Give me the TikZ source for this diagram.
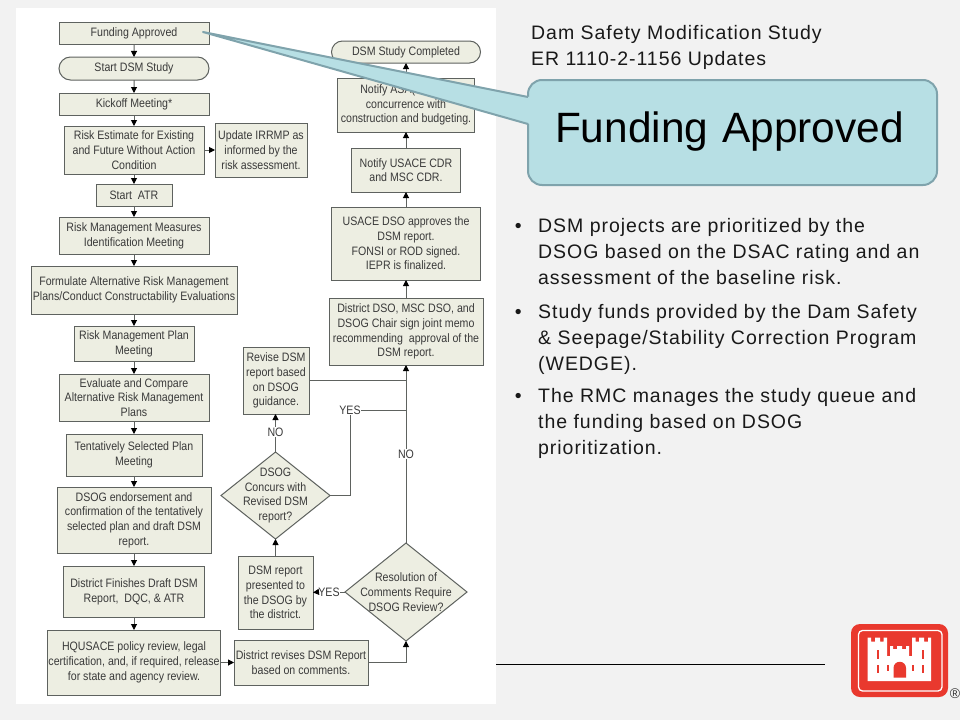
\documentclass[tikz,border=0pt]{standalone}
\usepackage{fontspec}
\setmainfont{Liberation Sans}
\newfontfamily\flowfont[FakeStretch=0.87]{Liberation Sans}
\newfontfamily\slidefont[LetterSpace=4.9]{Liberation Sans}
\usetikzlibrary{
  arrows.meta, % for the small flow arrow tips
  positioning, % for relative positioning of the boxes
  shapes.geometric, % for the decision diamonds
  shapes.misc % for the rounded start and end boxes
}
\definecolor{slidebg}{HTML}{F2F2F2}
\definecolor{boxfill}{HTML}{EDEEE2}
\definecolor{boxline}{HTML}{5E625F}
\definecolor{flowtext}{HTML}{3A3A3A}
\definecolor{calloutfill}{HTML}{B7DFE4}
\definecolor{calloutline}{HTML}{7FA3AC}
\definecolor{logored}{HTML}{E9392E}
\tikzset{
  flowbox/.style={ % style for each step of the flow
    rectangle,draw=boxline,fill=boxfill,line width=1pt,
    inner sep=0pt,outer sep=0pt,
    align=center,text=flowtext,
    font=\flowfont\fontsize{12.2}{14.7}\selectfont,
  },
  terminal/.style={ % start and end of the study
    flowbox,rounded rectangle,
  },
  decision/.style={ % text sits in a label so the diamond keeps its size
    flowbox,diamond,
  },
  flowlabel/.style={ % labels on the connectors
    inner sep=0.5pt,text=flowtext,
    font=\flowfont\fontsize{12.2}{14.7}\selectfont,
  },
  decisiontext/.style={
    align=center,text=flowtext,inner sep=0pt,
    font=\flowfont\fontsize{12.2}{14.7}\selectfont,
  },
  conn/.style={ % style for the connections
    -{Triangle[length=6pt,width=6pt,color=black]},
    draw=boxline,line width=1pt,
  },
  plain/.style={ % connections with no tip
    draw=boxline,line width=1pt,
  },
  slidetext/.style={
    anchor=north west,align=left,inner sep=0pt,text=black!90,
    font=\slidefont\fontsize{19.5}{26}\selectfont,
  },
  bubblebox/.style={ % large label over the chart
    rectangle,rounded corners=14pt,draw=calloutline,fill=calloutfill,line width=2pt,
    inner sep=0pt,outer sep=0pt,minimum width=409pt,minimum height=105pt,
    text width=355pt,align=left,text height=31pt,text depth=12pt,
    font=\fontsize{42.4}{50}\selectfont,
  },
}

\begin{document}
\begin{tikzpicture}[x=1pt,y=-1pt]
  \useasboundingbox (0,0) rectangle (960,720);
  \fill[slidebg] (0,0) rectangle (960,720);
  \fill[white] (16,8) rectangle (496,704);
  \draw[black,line width=0.8pt] (496,664) -- (825,664);

  % left column, top to bottom
  \node[flowbox, minimum width=150pt, minimum height=22pt] (fund) at (134,33) {Funding Approved};
  \node[terminal, minimum width=150pt, minimum height=23pt, below=13pt of fund] (start) {Start DSM Study};
  \node[flowbox, minimum width=150pt, minimum height=22pt, below=13pt of start] (kick) {Kickoff Meeting*};
  \node[flowbox, minimum width=140pt, minimum height=48pt, below=11pt of kick] (est) {Risk Estimate for Existing\\and Future Without Action\\Condition};
  \node[flowbox, minimum width=92pt, minimum height=54pt, right=11pt of est] (irrmp) {Update IRRMP as\\informed by the\\risk assessment.};
  \node[flowbox, minimum width=76pt, minimum height=22pt, below=10pt of est] (atr) {Start~~ATR};
  \node[flowbox, minimum width=150pt, minimum height=37pt, below=11pt of atr] (measures) {Risk Management Measures\\Identification Meeting};
  \node[flowbox, minimum width=206pt, minimum height=48pt, below=12pt of measures] (formulate) {Formulate Alternative Risk Management\\Plans/Conduct Constructability Evaluations};
  \node[flowbox, minimum width=120pt, minimum height=35pt, below=12pt of formulate] (rmpmeet) {Risk Management Plan\\Meeting};
  \node[flowbox, minimum width=150pt, minimum height=47pt, below=13pt of rmpmeet] (evaluate) {Evaluate and Compare\\Alternative Risk Management\\Plans};
  \node[flowbox, minimum width=136pt, minimum height=42pt, below=13pt of evaluate] (tsp) {Tentatively Selected Plan\\Meeting};
  \node[flowbox, minimum width=154pt, minimum height=66pt, below=11pt of tsp] (endorse) {DSOG endorsement and\\confirmation of the tentatively\\selected plan and draft DSM\\report.};
  \node[flowbox, minimum width=141pt, minimum height=51pt, below=13pt of endorse] (finish) {District Finishes Draft DSM\\Report,~~DQC, \& ATR};
  \node[flowbox, minimum width=173pt, minimum height=65pt, below=13pt of finish] (hq) {HQUSACE policy review, legal\\certification, and, if required, release\\for state and agency review.};

  % right column, bottom to top
  \node[flowbox, minimum width=134pt, minimum height=45pt] (revises) at (301,662.5) {District revises DSM Report\\based on comments.};
  \node[decision, minimum width=122pt, minimum height=98pt, label={[decisiontext]center:{Resolution of\\Comments Require\\DSOG Review?}}] (resolve) at (406,592) {};
  \node[flowbox, minimum width=75pt, minimum height=73pt] (present) at (275.5,592.5) {DSM report\\presented to\\the DSOG by\\the district.};
  \node[decision, minimum width=109pt, minimum height=87pt, label={[decisiontext]center:{DSOG\\Concurs with\\Revised DSM\\report?}}] (concur) at (275.5,495.5) {};
  \node[flowbox, minimum width=66pt, minimum height=67pt] (revise) at (276,380.5) {Revise DSM\\report based\\on DSOG\\guidance.};
  \node[flowbox, minimum width=154pt, minimum height=67pt] (joint) at (406,331.5) {District DSO, MSC DSO, and\\DSOG Chair sign joint memo\\recommending~~approval of the\\DSM report.};
  \node[flowbox, minimum width=149pt, minimum height=73pt, above=18pt of joint] (approve) {USACE DSO approves the\\DSM report.\\FONSI or ROD signed.\\IEPR is finalized.};
  \node[flowbox, minimum width=109pt, minimum height=44pt, above=15pt of approve] (cdr) {Notify USACE CDR\\and MSC CDR.};
  \node[flowbox, minimum width=137pt, minimum height=54pt, above=16pt of cdr] (asa) {Notify ASA(CW) for\\concurrence with\\construction and budgeting.};
  \node[terminal, minimum width=149pt, minimum height=22pt, above=15pt of asa] (done) {DSM Study Completed};

  % labels on the connectors
  \node[flowlabel] (yesleft) at (329,592) {YES};
  \node[flowlabel] (noright) at (406,454) {NO};
  \node[flowlabel] (noleft) at (275.5,432) {NO};
  \node[flowlabel] (yesup) at (350,410) {YES};

  \draw[conn] (fund) -- (start);
  \draw[conn] (start) -- (kick);
  \draw[conn] (kick) -- (est);
  \draw[conn] (est) -- (irrmp);
  \draw[conn] (est) -- (atr);
  \draw[conn] (atr) -- (measures);
  \draw[conn] (measures) -- (formulate);
  \draw[conn] (formulate) -- (rmpmeet);
  \draw[conn] (rmpmeet) -- (evaluate);
  \draw[conn] (evaluate) -- (tsp);
  \draw[conn] (tsp) -- (endorse);
  \draw[conn] (endorse) -- (finish);
  \draw[conn] (finish) -- (hq);
  \draw[conn] (hq.east |- revises.west) -- (revises.west);
  \draw[conn] (revises.east) -| (resolve.south);
  \draw[plain] (resolve.west) -- (yesleft.east);
  \draw[conn] (yesleft.west) -- (present.east);
  \draw[conn] (present.north -| concur.south) -- (concur.south);
  \draw[plain] (concur.north) -- (noleft.south);
  \draw[conn] (noleft.north) -- (revise.south -| noleft.north);
  \draw[plain] (concur.east) -| (yesup.south);
  \draw[plain] (yesup.east) -- (yesup.east -| joint.south);
  \draw[plain] (revise.east) -- (revise.east -| joint.south);
  \draw[plain] (resolve.north) -- (noright.south);
  \draw[conn] (noright.north) -- (joint.south);
  \draw[conn] (joint) -- (approve);
  \draw[conn] (approve) -- (cdr);
  \draw[conn] (cdr) -- (asa);
  \draw[conn] (asa) -- (done);

  % slide text
  \node[slidetext, font=\slidefont\fontsize{19.5}{25.2}\selectfont] (heading) at (531,25.5) {Dam Safety Modification Study\\ER 1110-2-1156 Updates};
  \node[slidetext] (itema) at (538,218) {DSM projects are prioritized by the\\DSOG based on the DSAC rating and an\\assessment of the baseline risk.};
  \node[slidetext] (itemb) at (538,304) {Study funds provided by the Dam Safety\\\& Seepage/Stability Correction Program\\(WEDGE).};
  \node[slidetext] (itemc) at (538,388) {The RMC manages the study queue and\\the funding based on DSOG\\prioritization.};
  \foreach \i in {a,b,c}
    \node[slidetext, anchor=north east] at ([xshift=-16pt,yshift=-5pt]item\i.north west) {•};

  % callout over the chart
  \node[bubblebox] (bubble) at (732.5,132.5) {Funding Approved};
  \coordinate (tip) at (203,32);
  \coordinate (basetop) at (bubble.west |- 0,97);
  \coordinate (basebot) at (bubble.west |- 0,124);
  \fill[calloutfill] (tip) -- ([xshift=2pt]basetop) -- ([xshift=2pt]basebot) -- cycle;
  \draw[calloutline,line width=2pt,line join=round] (basetop) -- (tip) -- (basebot);

  % castle logo
  \fill[logored,rounded corners=9pt] (851,624) rectangle (948,697);
  \draw[white,line width=1.3pt,rounded corners=4pt] (858.5,630.5) rectangle (942,691);
  \fill[white] (867.5,681) -- (867.5,637.5) -- (871,637.5) -- (871,641.5) -- (875,641.5) -- (875,637.5) -- (880,637.5) -- (880,641.5) -- (883.5,641.5) -- (883.5,637.5) -- (887,637.5)
    -- (887,656) -- (890,656) -- (890,646) -- (893,646) -- (893,649) -- (897,649) -- (897,646) -- (902,646) -- (902,649) -- (906,649) -- (906,646) -- (909,646) -- (909,656) -- (912,656)
    -- (912,637.5) -- (915.5,637.5) -- (915.5,641.5) -- (919,641.5) -- (919,637.5) -- (924,637.5) -- (924,641.5) -- (928,641.5) -- (928,637.5) -- (931,637.5) -- (931,681) -- cycle;
  \fill[logored] (893.5,677.5) -- (893.5,668) arc[start angle=180,end angle=0,radius=6.25pt] -- (906,677.5) -- cycle;
  \foreach \x in {876.5,921.5} {
    \fill[logored] (\x,650) rectangle ++(2,9);
    \fill[logored] (\x,665) rectangle ++(2,8);
  }
  \foreach \x in {886.5,911.5} \fill[logored] (\x,665) rectangle ++(2,6);
  \node[inner sep=0pt,text=black!80,font=\fontsize{14}{14}\selectfont] (mark) at (955,694) {®};
\end{tikzpicture}
\end{document}
